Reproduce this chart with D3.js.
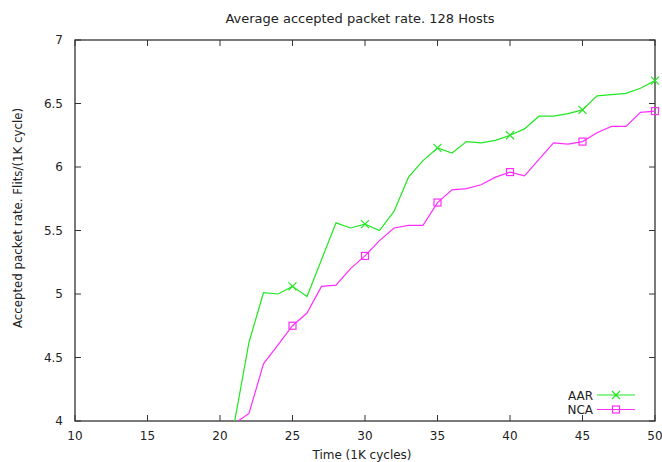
<!DOCTYPE html>
<html><head><meta charset="utf-8">
<script src="https://cdn.jsdelivr.net/npm/d3@7"></script>
<style>body{margin:0;background:#fff}svg{display:block}text{font-family:"DejaVu Sans",sans-serif;fill:#222}</style>
</head><body><svg id="c" width="662" height="462"></svg>
<script>
const timeK = [21,22,23,24,25,26,27,28,29,30,31,32,33,34,35,36,37,38,39,40,41,42,43,44,45,46,47,48,49,50];
const aar = [3.99,4.62,5.01,5.00,5.06,4.98,5.27,5.56,5.52,5.55,5.50,5.65,5.92,6.05,6.15,6.11,6.20,6.19,6.21,6.25,6.30,6.40,6.40,6.42,6.45,6.56,6.57,6.58,6.62,6.68];
const nca = [3.98,4.06,4.45,4.60,4.75,4.85,5.06,5.07,5.20,5.30,5.42,5.52,5.54,5.54,5.72,5.82,5.83,5.86,5.92,5.96,5.93,6.06,6.19,6.18,6.20,6.27,6.32,6.32,6.43,6.44];
const markX = [25,30,35,40,45,50];
const xTicks = [10,15,20,25,30,35,40,45,50];
const yTicks = [4,4.5,5,5.5,6,6.5,7];
const seriesNames = ["AAR","NCA"];
const colors = ["#22e622","#ff2eff"];

const svg = d3.select("#c");
const L=75,R=655,T=40,B=421;
const x = d3.scaleLinear().domain([10,50]).range([L,R]);
const y = d3.scaleLinear().domain([4,7]).range([B,T]);

svg.append("text").attr("x",360).attr("y",23).attr("text-anchor","middle").style("font-size","13px").text("Average accepted packet rate. 128 Hosts");

svg.append("defs").append("clipPath").attr("id","clip").append("rect").attr("x",L).attr("y",T).attr("width",R-L).attr("height",B-T);

const tl=6;
const ax = svg.append("g");
xTicks.forEach(v=>{
  ax.append("line").attr("x1",x(v)).attr("x2",x(v)).attr("y1",B).attr("y2",B-tl).attr("stroke","#333");
  ax.append("line").attr("x1",x(v)).attr("x2",x(v)).attr("y1",T).attr("y2",T+tl).attr("stroke","#333");
  ax.append("text").attr("x",x(v)).attr("y",B+19).attr("text-anchor","middle").style("font-size","12px").text(v);
});
yTicks.forEach(v=>{
  ax.append("line").attr("x1",L).attr("x2",L+tl).attr("y1",y(v)).attr("y2",y(v)).attr("stroke","#333");
  ax.append("line").attr("x1",R).attr("x2",R-tl).attr("y1",y(v)).attr("y2",y(v)).attr("stroke","#333");
  ax.append("text").attr("x",L-12).attr("y",y(v)+4).attr("text-anchor","end").style("font-size","12px").text(v);
});
svg.append("rect").attr("x",L).attr("y",T).attr("width",R-L).attr("height",B-T).attr("fill","none").attr("stroke","#333").attr("stroke-width",1.3);

svg.append("text").attr("x",362).attr("y",459).attr("text-anchor","middle").style("font-size","12px").text("Time (1K cycles)");
svg.append("text").attr("transform","translate(22,218) rotate(-90)").attr("text-anchor","middle").style("font-size","11.8px").text("Accepted packet rate. Flits/(1K cycle)");

const line = d3.line().x(d=>x(d[0])).y(d=>y(d[1]));
const data=[aar,nca];
function marker(g,i,cx,cy){
  if(i===0){
    g.append("path").attr("d",`M${cx-4},${cy-4}L${cx+4},${cy+4}M${cx-4},${cy+4}L${cx+4},${cy-4}`).attr("stroke",colors[0]).attr("fill","none").attr("stroke-width",1.2);
  } else {
    g.append("rect").attr("x",cx-3.5).attr("y",cy-3.5).attr("width",7).attr("height",7).attr("stroke",colors[1]).attr("fill","none").attr("stroke-width",1.2);
  }
}
data.forEach((vals,i)=>{
  const pts = timeK.map((t,j)=>[t,vals[j]]);
  svg.append("path").datum(pts).attr("d",line).attr("fill","none").attr("stroke",colors[i]).attr("stroke-width",1.2).attr("clip-path","url(#clip)");
  const g = svg.append("g");
  pts.filter(p=>markX.includes(p[0])).forEach(p=>marker(g,i,x(p[0]),y(p[1])));
  const ly = 395 + i*14.5;
  svg.append("text").attr("x",593).attr("y",ly+4.5).attr("text-anchor","end").style("font-size","12px").text(seriesNames[i]);
  svg.append("line").attr("x1",597).attr("x2",635).attr("y1",ly).attr("y2",ly).attr("stroke",colors[i]).attr("stroke-width",1.2);
  marker(svg,i,616,ly);
});
</script></body></html>
